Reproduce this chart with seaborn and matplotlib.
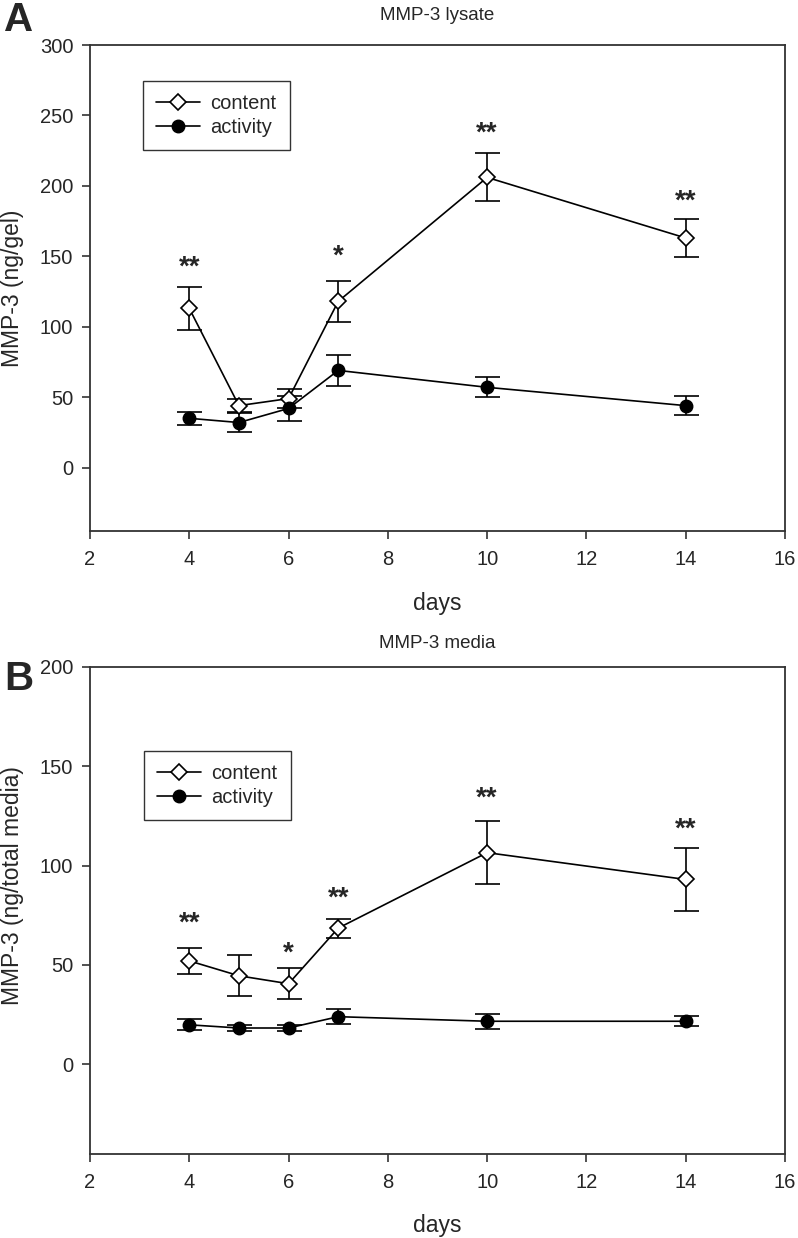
import numpy as np
import pandas as pd
import matplotlib
matplotlib.use("Agg")
import matplotlib.pyplot as plt
import seaborn as sns

sns.set_style("white")
plt.rcParams['font.family'] = ['Liberation Sans', 'DejaVu Sans']

days = [4, 5, 6, 7, 10, 14]

# Panel A: MMP-3 lysate (ng/gel)
lys_content = [113, 44, 49, 118, 206, 163]
lys_content_err = [15, 4.5, 6.5, 14.5, 17, 13.5]
lys_activity = [35, 32, 42, 69, 57, 44]
lys_activity_err = [4.6, 7, 9, 11, 7, 7]
lys_sig = ["**", "", "", "*", "**", "**"]
lys_sig_y = [146, 0, 0, 154, 241, 192.5]

# Panel B: MMP-3 media (ng/total media)
med_content = [52, 44.5, 40.5, 68.5, 106.5, 93]
med_content_err = [6.5, 10.3, 7.7, 4.8, 16, 16]
med_activity = [19.8, 18.2, 18.2, 23.9, 21.6, 21.6]
med_activity_err = [2.8, 1.5, 1.5, 3.7, 3.8, 2.6]
med_sig = ["**", "", "*", "**", "**", "**"]
med_sig_y = [73.4, 0, 58.3, 86, 136.3, 120.8]

W, H = 798, 1238
fig = plt.figure(figsize=(W / 100, H / 100), dpi=100)

def px_axes(left, top, right, bottom):
    return fig.add_axes([left / W, 1 - bottom / H, (right - left) / W, (bottom - top) / H])

axA = px_axes(90, 45, 785, 531)
axB = px_axes(90, 667, 785, 1153.5)

def draw(ax, content, cerr, activity, aerr, sig, sig_y, ylim, yticks, ylabel,
         legend_anchor, ylab_y):
    df = pd.DataFrame({"day": days, "content": content, "activity": activity})
    ax.errorbar(days, content, yerr=cerr, fmt='none', ecolor='black',
                elinewidth=1.2, capsize=9, capthick=1.2, zorder=2)
    ax.errorbar(days, activity, yerr=aerr, fmt='none', ecolor='black',
                elinewidth=1.2, capsize=9, capthick=1.2, zorder=2)
    sns.lineplot(data=df, x="day", y="content", ax=ax, color='black', lw=1.2,
                 marker='D', markersize=7.8, markerfacecolor='white',
                 markeredgecolor='black', markeredgewidth=1.2, label='content', zorder=3)
    sns.lineplot(data=df, x="day", y="activity", ax=ax, color='black', lw=1.2,
                 marker='o', markersize=9, markerfacecolor='black',
                 markeredgecolor='black', markeredgewidth=1.0, label='activity', zorder=3)
    for d, s, yv in zip(days, sig, sig_y):
        if s:
            ax.annotate(s, xy=(d, yv), xytext=(0, -9), textcoords='offset points',
                        ha='center', va='baseline', fontsize=20, fontweight='bold')
    ax.set_xlim(2, 16)
    ax.set_ylim(*ylim)
    ax.set_xticks([2, 4, 6, 8, 10, 12, 14, 16])
    ax.set_yticks(yticks)
    ax.tick_params(axis='both', which='both', direction='out', length=6, width=1.2,
                   labelsize=14.5, color='#333333', bottom=True, left=True,
                   top=False, right=False)
    ax.tick_params(axis='x', pad=8)
    ax.tick_params(axis='y', pad=6)
    for sp in ax.spines.values():
        sp.set_visible(True)
        sp.set_color('#333333')
        sp.set_linewidth(1.3)
    ax.set_xlabel("days", fontsize=16.5, labelpad=16)
    ax.set_ylabel(ylabel, fontsize=16.5)
    ax.yaxis.label.set_va('center')
    ax.yaxis.set_label_coords(-0.112, ylab_y)
    leg = ax.legend(loc='upper left', bbox_to_anchor=legend_anchor, borderaxespad=0,
                    frameon=True, fancybox=False, fontsize=14.5, handlelength=2.2,
                    borderpad=0.65, labelspacing=0.25, handletextpad=0.5)
    leg.get_frame().set_edgecolor('black')
    leg.get_frame().set_linewidth(1.0)

draw(axA, lys_content, lys_content_err, lys_activity, lys_activity_err, lys_sig, lys_sig_y,
     (-45, 300), [0, 50, 100, 150, 200, 250, 300], "MMP-3 (ng/gel)",
     (0.0763, 0.926), 0.5)
draw(axB, med_content, med_content_err, med_activity, med_activity_err, med_sig, med_sig_y,
     (-45, 200), [0, 50, 100, 150, 200], "MMP-3 (ng/total media)",
     (0.0777, 0.827), 0.55)

fig.text(437.5 / W, 1 - 15 / H, "MMP-3 lysate", ha='center', va='center', fontsize=13.5)
fig.text(437.5 / W, 1 - 644 / H, "MMP-3 media", ha='center', va='center', fontsize=13.5)
fig.text(4 / W, 1 - 20 / H, "A", ha='left', va='center', fontsize=29, fontweight='bold')
fig.text(4 / W, 1 - 679 / H, "B", ha='left', va='center', fontsize=29, fontweight='bold')

fig.savefig("out.png", dpi=100, facecolor='white')
